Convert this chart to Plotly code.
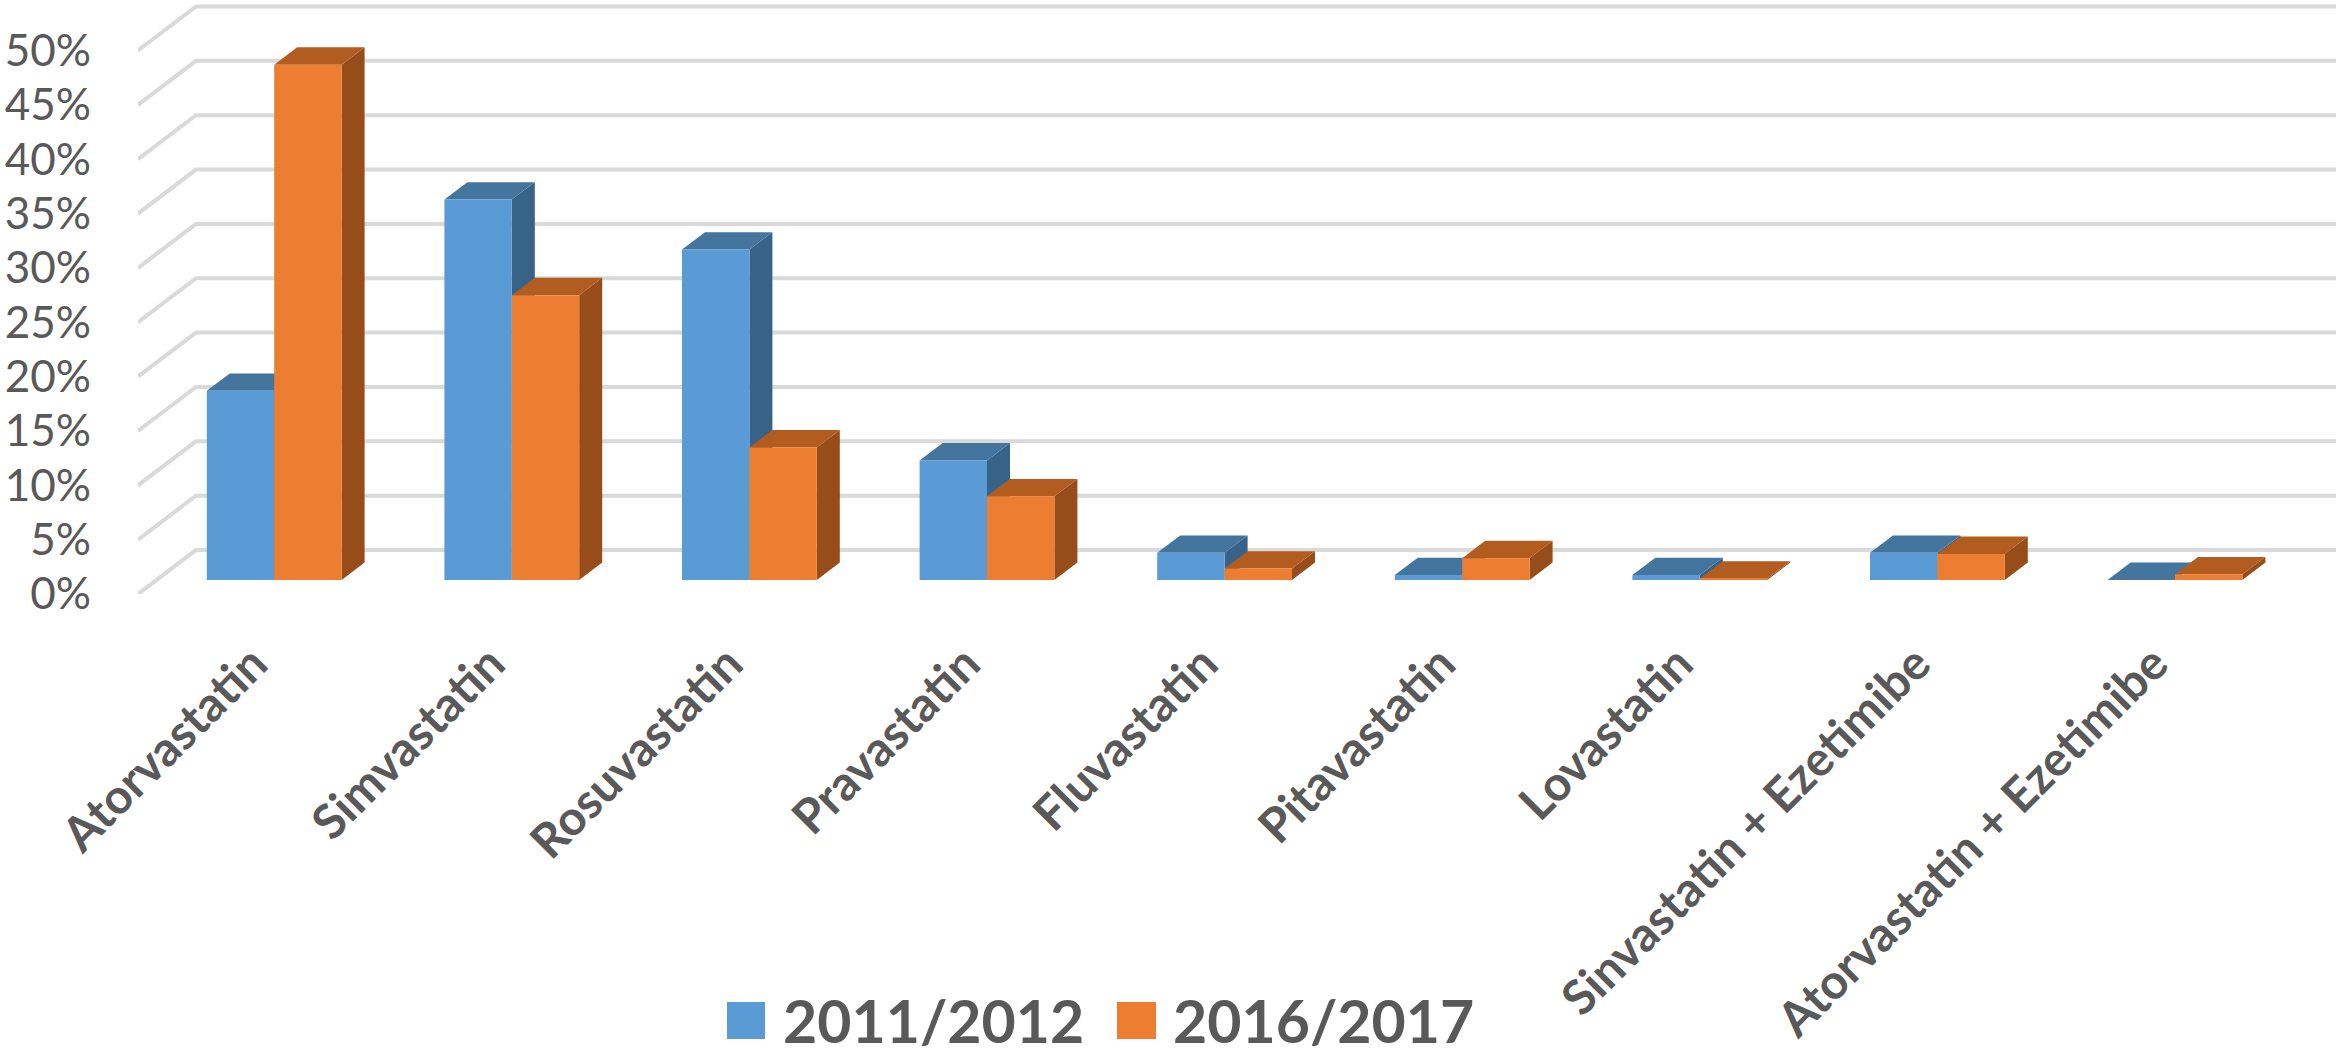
import plotly.graph_objects as go

categories = ["Atorvastatin", "Simvastatin", "Rosuvastatin", "Pravastatin", "Fluvastatin",
              "Pitavastatin", "Lovastatin", "Sinvastatin + Ezetimibe", "Atorvastatin + Ezetimibe"]
series_names = ["2011/2012", "2016/2017"]
values_2011 = [17.4, 35.0, 30.4, 11.0, 2.5, 0.45, 0.45, 2.5, 0.0]
values_2016 = [47.4, 26.2, 12.2, 7.7, 1.05, 2.0, 0.12, 2.4, 0.52]
y_ticks = [0, 5, 10, 15, 20, 25, 30, 35, 40, 45, 50]

W, H = 2341, 1058
ML, MR, MT, MB = 138, 1, 0, 464
X0_PX, X_UNIT = 274.2, 237.6
Y_UNIT = 10.87
xrange_ = [(ML - X0_PX) / X_UNIT, (W - MR - X0_PX) / X_UNIT]
yrange_ = [0, (H - MB - MT) / Y_UNIT]

BAR_W = 67.4 / X_UNIT
BASE = 14 / Y_UNIT            # bars stand in the middle of the floor depth
DX, DY = 23 / X_UNIT, 17.4 / Y_UNIT   # bar depth
WALL_DX, WALL_DY = 58 / X_UNIT, 44 / Y_UNIT  # floor depth
GRID_RIGHT = (2336 - X0_PX) / X_UNIT
LABEL_SHIFT = -21 / X_UNIT    # rotated labels end left of the group centre

TEXT = "#595959"
GRID = "#D9D9D9"
FRONT = ["#5B9BD5", "#ED7D31"]
TOP = ["#43759F", "#B35C1F"]
SIDE = ["#386388", "#974D19"]

fig = go.Figure()

# walls: slanted left wall + back wall gridlines
gx, gy = [], []
for t in y_ticks:
    gx += [xrange_[0], xrange_[0] + WALL_DX, GRID_RIGHT, None]
    gy += [t, t + WALL_DY, t + WALL_DY, None]
fig.add_trace(go.Scatter(x=gx, y=gy, mode="lines", line=dict(color=GRID, width=4),
                         hoverinfo="skip", showlegend=False, cliponaxis=False, zorder=0))


def poly(points):
    xs, ys = [], []
    for px_, py_ in points:
        xs.append(px_)
        ys.append(py_)
    xs += [xs[0], None]
    ys += [ys[0], None]
    return xs, ys


for s, (name, vals) in enumerate(zip(series_names, [values_2011, values_2016])):
    left = [i + (s - 1) * BAR_W for i in range(len(vals))]
    sx, sy, tx, ty = [], [], [], []
    for x0, v in zip(left, vals):
        x1 = x0 + BAR_W
        top = BASE + v
        a, b = poly([(x1, BASE), (x1, top), (x1 + DX, top + DY), (x1 + DX, BASE + DY)])
        sx += a; sy += b
        a, b = poly([(x0, top), (x1, top), (x1 + DX, top + DY), (x0 + DX, top + DY)])
        tx += a; ty += b
    z = 1 + 2 * s
    fig.add_trace(go.Scatter(x=sx, y=sy, mode="lines", fill="toself", fillcolor=SIDE[s],
                             line=dict(width=0, color=SIDE[s]), hoverinfo="skip",
                             showlegend=False, zorder=z))
    fig.add_trace(go.Scatter(x=tx, y=ty, mode="lines", fill="toself", fillcolor=TOP[s],
                             line=dict(width=0, color=TOP[s]), hoverinfo="skip",
                             showlegend=False, zorder=z))
    fig.add_trace(go.Bar(x=list(range(len(vals))), y=vals, base=BASE, name=name,
                         width=BAR_W, offset=(s - 1) * BAR_W,
                         marker=dict(color=FRONT[s], line=dict(width=0)),
                         customdata=categories,
                         hovertemplate="%{customdata}: %{y}%<extra>" + name + "</extra>",
                         showlegend=False, zorder=z + 1))

# legend, drawn at reference size
LEG = [(727, 765, 781), (1117, 1156, 1171)]
PLOT_H = H - MB - MT
for s, (a, b, tx_) in enumerate(LEG):
    fig.add_shape(type="rect", xref="paper", yref="paper",
                  x0=(a - ML) / (W - ML - MR), x1=(b - ML) / (W - ML - MR),
                  y0=(PLOT_H - 1039) / PLOT_H, y1=(PLOT_H - 1002) / PLOT_H,
                  fillcolor=FRONT[s], line=dict(width=0))
    fig.add_annotation(xref="paper", yref="paper", x=(tx_ - ML) / (W - ML - MR),
                       y=(PLOT_H - 1020) / PLOT_H, xanchor="left", yanchor="middle",
                       text=series_names[s], showarrow=False,
                       font=dict(family="Lato", size=59, color=TEXT, weight=700))

fig.update_layout(
    width=W, height=H, margin=dict(l=ML, r=MR, t=MT, b=MB, pad=0),
    paper_bgcolor="white", plot_bgcolor="white", showlegend=False,
    barmode="overlay",
    xaxis=dict(range=xrange_, tickmode="array",
               tickvals=[i + LABEL_SHIFT for i in range(len(categories))],
               ticktext=categories, tickangle=-45, showgrid=False, zeroline=False,
               showline=False, ticks="", ticklabelstandoff=31,
               tickfont=dict(family="Lato", size=48, color=TEXT, weight=700)),
    yaxis=dict(range=yrange_, tickmode="array", tickvals=y_ticks,
               ticktext=[f"{t}%" for t in y_ticks], showgrid=False, zeroline=False,
               showline=False, ticks="", ticklabelstandoff=46,
               tickfont=dict(family="Lato", size=44, color=TEXT)),
)

fig.write_html("out.html", config={"displayModeBar": False},
               post_script="document.body.style.margin='0';")
